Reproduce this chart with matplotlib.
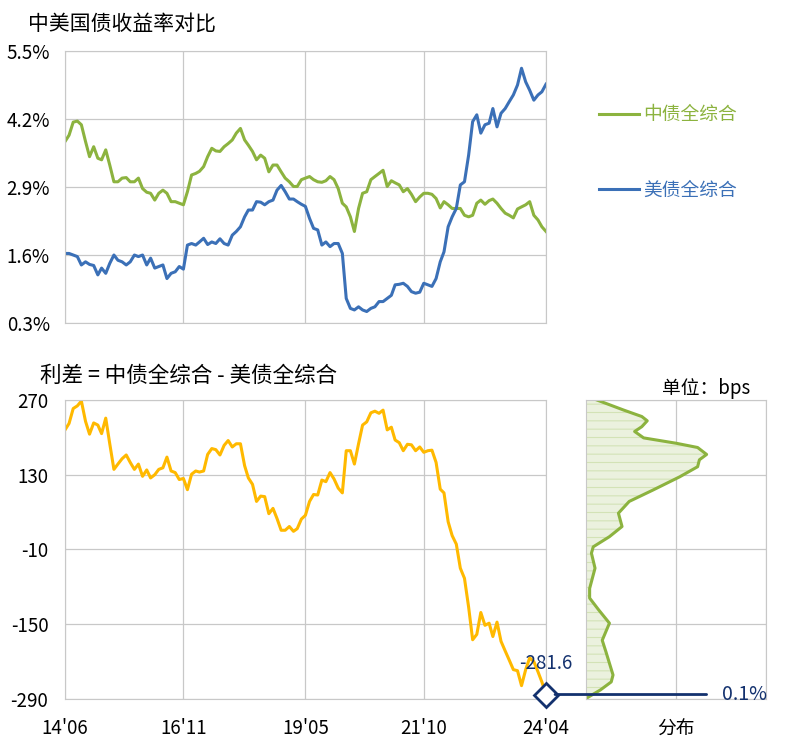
import numpy as np
import pandas as pd
import matplotlib
matplotlib.use("Agg")
import matplotlib.pyplot as plt
import matplotlib.dates as mdates
from matplotlib.patches import ConnectionPatch

plt.rcParams['font.family'] = ['Noto Sans CJK SC', 'DejaVu Sans']
plt.rcParams['hatch.linewidth'] = 0.8
plt.rcParams['axes.unicode_minus'] = False

# monthly yields, 2014-06 .. 2024-04 (%)
cn_yield = [3.77, 3.89, 4.14, 4.16, 4.09, 3.77, 3.48, 3.67, 3.45, 3.42,
            3.61, 3.32, 3.00, 3.00, 3.07, 3.08, 3.00, 3.00, 3.07, 2.87,
            2.80, 2.78, 2.65, 2.78, 2.84, 2.78, 2.62, 2.62, 2.59, 2.56,
            2.81, 3.13, 3.16, 3.20, 3.29, 3.48, 3.64, 3.59, 3.58, 3.67,
            3.73, 3.80, 3.93, 4.02, 3.80, 3.70, 3.58, 3.42, 3.51, 3.45,
            3.19, 3.32, 3.32, 3.19, 3.07, 3.00, 2.91, 2.91, 3.04, 3.07,
            3.10, 3.04, 3.00, 2.99, 3.02, 3.10, 3.04, 2.87, 2.59, 2.52,
            2.33, 2.05, 2.49, 2.78, 2.81, 3.04, 3.10, 3.16, 3.22, 2.91,
            3.02, 2.98, 2.94, 2.81, 2.87, 2.76, 2.62, 2.71, 2.78, 2.78,
            2.76, 2.68, 2.50, 2.62, 2.56, 2.49, 2.49, 2.49, 2.36, 2.33,
            2.36, 2.59, 2.65, 2.57, 2.64, 2.67, 2.59, 2.49, 2.40, 2.36,
            2.31, 2.48, 2.52, 2.56, 2.62, 2.36, 2.27, 2.14, 2.05]
us_yield = [1.63, 1.63, 1.60, 1.57, 1.41, 1.47, 1.42, 1.40, 1.22, 1.35,
            1.25, 1.44, 1.60, 1.50, 1.47, 1.41, 1.47, 1.60, 1.57, 1.60,
            1.41, 1.54, 1.35, 1.38, 1.41, 1.15, 1.25, 1.28, 1.38, 1.33,
            1.79, 1.82, 1.79, 1.85, 1.92, 1.80, 1.85, 1.82, 1.91, 1.82,
            1.79, 1.98, 2.05, 2.14, 2.33, 2.46, 2.46, 2.62, 2.61, 2.56,
            2.62, 2.65, 2.84, 2.93, 2.81, 2.67, 2.67, 2.62, 2.57, 2.53,
            2.30, 2.11, 2.08, 1.79, 1.85, 1.76, 1.82, 1.82, 1.63, 0.77,
            0.58, 0.55, 0.61, 0.55, 0.52, 0.58, 0.61, 0.71, 0.71, 0.77,
            0.83, 1.03, 1.04, 1.06, 1.00, 0.90, 0.87, 0.89, 1.06, 1.03,
            1.00, 1.15, 1.47, 1.66, 2.14, 2.33, 2.49, 2.94, 3.00, 3.51,
            4.15, 4.28, 3.93, 4.09, 4.12, 4.40, 4.05, 4.31, 4.40, 4.53,
            4.66, 4.85, 5.17, 4.91, 4.75, 4.56, 4.66, 4.72, 4.866]
dates = pd.date_range('2014-06-01', periods=len(cn_yield), freq='MS')
spread = (np.array(cn_yield) - np.array(us_yield)) * 100

# spread distribution (bps level, relative density)
dist_level = [270, 251, 239, 231, 220, 211, 199, 189, 181, 168, 158, 145, 126,
              101, 80, 58, 33, 14, -5, -17, -45, -83, -101, -123, -148, -180,
              -201, -245, -258, -273, -289]
dist_density = [0.06, 0.21, 0.31, 0.34, 0.31, 0.27, 0.32, 0.50, 0.62, 0.67,
                0.63, 0.62, 0.52, 0.37, 0.24, 0.18, 0.20, 0.13, 0.04, 0.03,
                0.05, 0.02, 0.02, 0.07, 0.13, 0.09, 0.11, 0.15, 0.14, 0.08,
                0.00]
pct_label = '0.1%'

green = '#8cb33f'
blue = '#3b70b7'
gold = '#ffb900'
navy = '#13316e'
grid_c = '#c8c8c8'
tick_dates = [dates[0], dates[29], dates[59], dates[88], dates[118]]
last_x = mdates.date2num(dates[-1])

fig = plt.figure(figsize=(7.97, 7.5), dpi=100)
ax1 = fig.add_axes([0.0816, 0.5693, 0.6035, 0.3627])
ax2 = fig.add_axes([0.0816, 0.068, 0.6035, 0.3987])
ax3 = fig.add_axes([0.7353, 0.068, 0.2258, 0.3987])

for ax in (ax1, ax2, ax3):
    for s in ax.spines.values():
        s.set_color(grid_c)
    ax.grid(True, color=grid_c, lw=0.9)
    ax.set_axisbelow(True)
    ax.tick_params(length=0, labelsize=13.5)

# top: yields
ax1.plot(dates, cn_yield, color=green, lw=2.2, label='中债全综合')
ax1.plot(dates, us_yield, color=blue, lw=2.2, label='美债全综合')
ax1.set_xlim(dates[0], dates[-1])
ax1.set_ylim(0.3, 5.5)
ax1.set_yticks([0.3, 1.6, 2.9, 4.2, 5.5])
ax1.yaxis.set_major_formatter(plt.FuncFormatter(lambda v, p: '%.1f%%' % v))
ax1.set_xticks(tick_dates)
ax1.tick_params(axis='x', labelbottom=False)
ax1.tick_params(axis='y', pad=11)
leg = ax1.legend(loc='upper left', bbox_to_anchor=(0.752, 0.861),
                 bbox_transform=fig.transFigure, frameon=False, fontsize=13.5,
                 handlelength=2.1, handletextpad=0.25, labelspacing=2.9,
                 borderpad=0, borderaxespad=0, labelcolor='linecolor')
fig.text(0.035, 0.968, '中美国债收益率对比', fontsize=15, va='center')

# bottom: spread
ax2.plot(dates, spread, color=gold, lw=2.2)
ax2.set_xlim(dates[0], dates[-1])
ax2.set_ylim(-290, 270)
ax2.set_yticks([-290, -150, -10, 130, 270])
ax2.set_xticks(tick_dates)
ax2.xaxis.set_major_formatter(mdates.DateFormatter("%y'%m"))
ax2.tick_params(axis='x', pad=14)
ax2.tick_params(axis='y', pad=12)
ax2.plot([last_x], [spread[-1]], marker='D', ms=12, mfc='white', mec=navy,
         mew=2, clip_on=False, zorder=5)
ax2.annotate('%.1f' % spread[-1], (last_x, spread[-1]), xytext=(0, 22),
             textcoords='offset points', ha='center', va='center',
             fontsize=13.5, color=navy, zorder=6)
fig.text(0.05, 0.499, '利差 = 中债全综合 - 美债全综合', fontsize=15.5, va='center')
fig.text(0.941, 0.482, '单位：bps', fontsize=13.5, va='center', ha='right')

# right: distribution
ax3.fill_betweenx(dist_level, 0, dist_density, facecolor='#ebf1de',
                  edgecolor='#d3e2b6', hatch='--', lw=0)
ax3.plot(dist_density, dist_level, color=green, lw=2.2)
ax3.set_xlim(0, 1)
ax3.set_ylim(-290, 270)
ax3.set_yticks([-290, -150, -10, 130, 270])
ax3.set_xticks([0, 0.5, 1.0])
ax3.tick_params(labelleft=False, labelbottom=False)
ax3.set_xlabel('分布', fontsize=13.5, labelpad=14)
con = ConnectionPatch(xyA=(last_x, spread[-1]), coordsA=ax2.transData,
                      xyB=(max(dist_density), spread[-1]), coordsB=ax3.transData,
                      color=navy, lw=2, shrinkA=6.5, shrinkB=0, zorder=4)
fig.add_artist(con)
ax3.text(1.005, spread[-1], pct_label, ha='right', va='center', fontsize=14,
         color=navy)

fig.savefig('out.png', dpi=100)
